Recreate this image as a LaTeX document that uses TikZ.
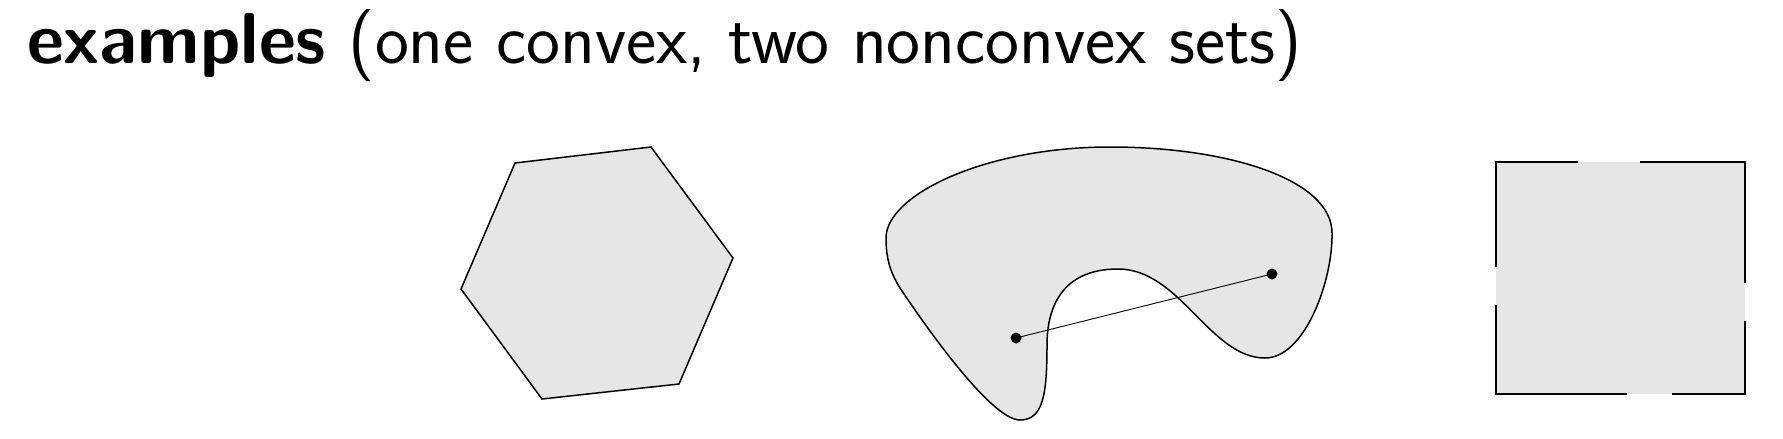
\documentclass[tikz,border=0pt]{standalone}
\usepackage{fontspec}
\begin{document}
\begin{tikzpicture}[x=1pt,y=-1pt,
  setfill/.style={fill={rgb,255:red,230;green,230;blue,230}},
  edge/.style={line width=1.5pt,line join=miter},
  dot/.style={circle,fill=black,inner sep=0pt,minimum size=11pt},
  seg/.style={line width=0.9pt}]
\useasboundingbox (0,0) rectangle (1783,439);
\node[anchor=base west,inner sep=0pt,font=\sffamily\fontsize{72}{84}\selectfont] (title) at (27,63) {\textbf{examples} (one convex, two nonconvex sets)};
% hexagon
\draw[setfill,edge] (515,163) -- (651,147) -- (733,258) -- (679,384) -- (542,399) -- (461,289) -- cycle;
% blob
\draw[setfill,edge]
 (1110,147) .. controls (1230,147) and (1332,180) .. (1332,233)
 .. controls (1333,280) and (1305,358) .. (1265,358)
 .. controls (1210,358) and (1180,269) .. (1118,269)
 .. controls (1060,269) and (1047,310) .. (1047,345)
 .. controls (1047,395) and (1043,420) .. (1020,420)
 .. controls (990,420) and (920,318) .. (900,288)
 .. controls (890,272) and (886,258) .. (886,238)
 .. controls (886,195) and (985,147) .. (1110,147) -- cycle;
\node[dot] (p) at (1016,338) {};
\node[dot] (q) at (1272,274) {};
\draw[seg] (p.center) -- (q.center);
% square with gaps
\fill[setfill] (1496,162) rectangle (1745,394);
\draw[edge,line cap=rect] (1496,266) -- (1496,162) -- (1577,162);
\draw[edge,line cap=rect] (1641,162) -- (1745,162) -- (1745,282);
\draw[edge,line cap=rect] (1745,322) -- (1745,394) -- (1673,394);
\draw[edge,line cap=rect] (1626,394) -- (1496,394) -- (1496,306);
\end{tikzpicture}
\end{document}
